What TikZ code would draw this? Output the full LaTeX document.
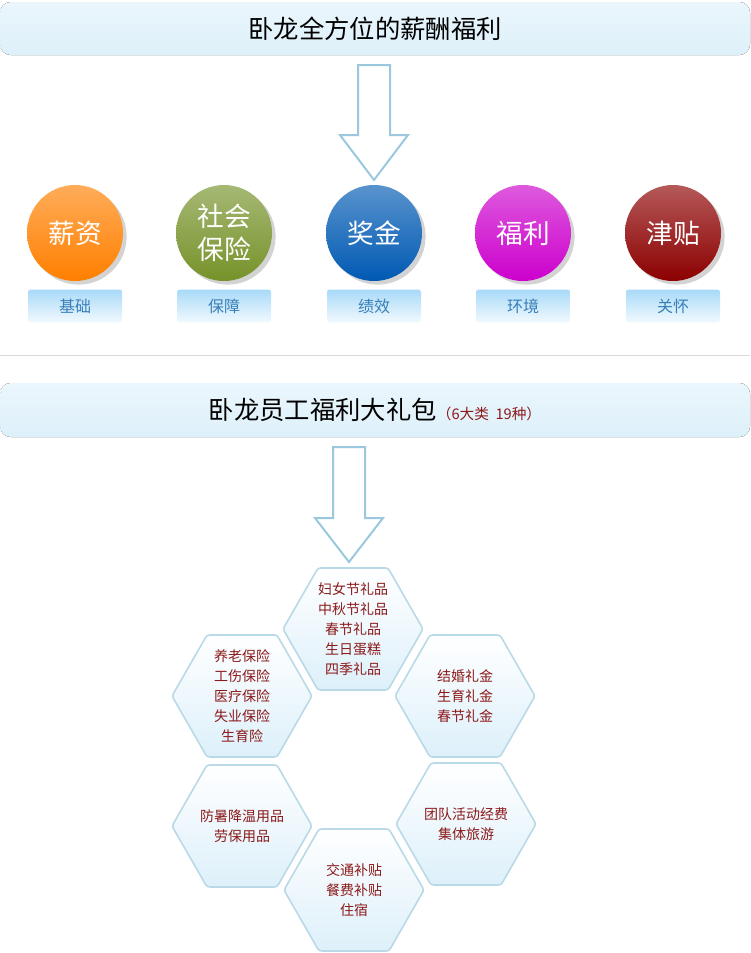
\documentclass[tikz,border=0pt]{standalone}
\usepackage{fontspec}
\setmainfont{Noto Sans CJK SC}
\usetikzlibrary{shadows}
\definecolor{bannerblue}{HTML}{DDF0FA}
\definecolor{linkblue}{HTML}{9CC8DD}
\definecolor{textred}{HTML}{8B1A1A}
\definecolor{tagblue}{HTML}{3A7FB8}
\definecolor{tagtop}{HTML}{A8DAF8}
\definecolor{olivegreen}{HTML}{76922A}
\tikzset{
  banner/.style={rounded corners=8pt, top color=bannerblue!60, bottom color=bannerblue, draw=none},
  hollowarrow/.style={draw=linkblue, line width=1.5pt, fill=white, line join=miter},
  ball/.style={circle, minimum size=96*0.75pt, inner sep=0pt, text=white, drop shadow={opacity=0.35}},
  tag/.style={rounded corners=2pt, minimum width=94*0.75pt, minimum height=33*0.75pt, top color=tagtop, bottom color=tagtop!15, text=tagblue, font=\fontsize{12}{14}\selectfont},
  hexa/.style={draw=linkblue!70, line width=1.2pt, top color=white, bottom color=bannerblue, rounded corners=2pt},
  hextext/.style={align=center, text=textred, font=\fontsize{10.5}{15}\selectfont}
}
\newcommand{\hexpath}[2]{(#1-70,#2) -- (#1-35,#2-61) -- (#1+35,#2-61) -- (#1+70,#2) -- (#1+35,#2+61) -- (#1-35,#2+61) -- cycle}
\begin{document}
\begin{tikzpicture}[x=0.75pt, y=-0.75pt]
\useasboundingbox (0,0) rectangle (750,953);
% banners
\fill[banner] (0,2) rectangle (750,55);
\node (title1) at (375,29) {\fontsize{19}{22}\selectfont 卧龙全方位的薪酬福利};
\fill[banner] (0,383) rectangle (750,437);
\node (title2) at (375,410) {\fontsize{19}{22}\selectfont 卧龙员工福利大礼包\textcolor{textred}{\fontsize{11}{13}\selectfont （6大类~~19种）}};
% arrows
\draw[hollowarrow] (358,65) -- (390,65) -- (390,135) -- (408,135) -- (374,180) -- (340,135) -- (358,135) -- cycle;
\draw[hollowarrow] (333,447) -- (365,447) -- (365,518) -- (383,518) -- (349,562) -- (315,518) -- (333,518) -- cycle;
% separator
\draw[gray!30] (0,355) -- (750,355);
% balls and tags
\foreach \x/\c/\t/\g [count=\i] in {75/orange/薪资/基础, 224/olivegreen/{社会\\保险}/保障, 374/blue!50!cyan!70!black/奖金/绩效, 523/magenta!80!black/福利/环境, 673/red!55!black/津贴/关怀}{
  \node[ball, align=center, top color=\c!65, bottom color=\c, font=\fontsize{20}{25}\selectfont] (ball\i) at (\x,233) {\t};
  \node[tag] (tag\i) at (\x,306) {\g};
}
% hexagons
\foreach \x/\y/\t [count=\i] in {353/629/{妇女节礼品\\中秋节礼品\\春节礼品\\生日蛋糕\\四季礼品}, 242/696/{养老保险\\工伤保险\\医疗保险\\失业保险\\生育险}, 465/696/{结婚礼金\\生育礼金\\春节礼金}, 242/826/{防暑降温用品\\劳保用品}, 466/824/{团队活动经费\\集体旅游}, 354/890/{交通补贴\\餐费补贴\\住宿}}{
  \draw[hexa] \hexpath{\x}{\y};
  \node[hextext] (hex\i) at (\x,\y) {\t};
}
\end{tikzpicture}
\end{document}
